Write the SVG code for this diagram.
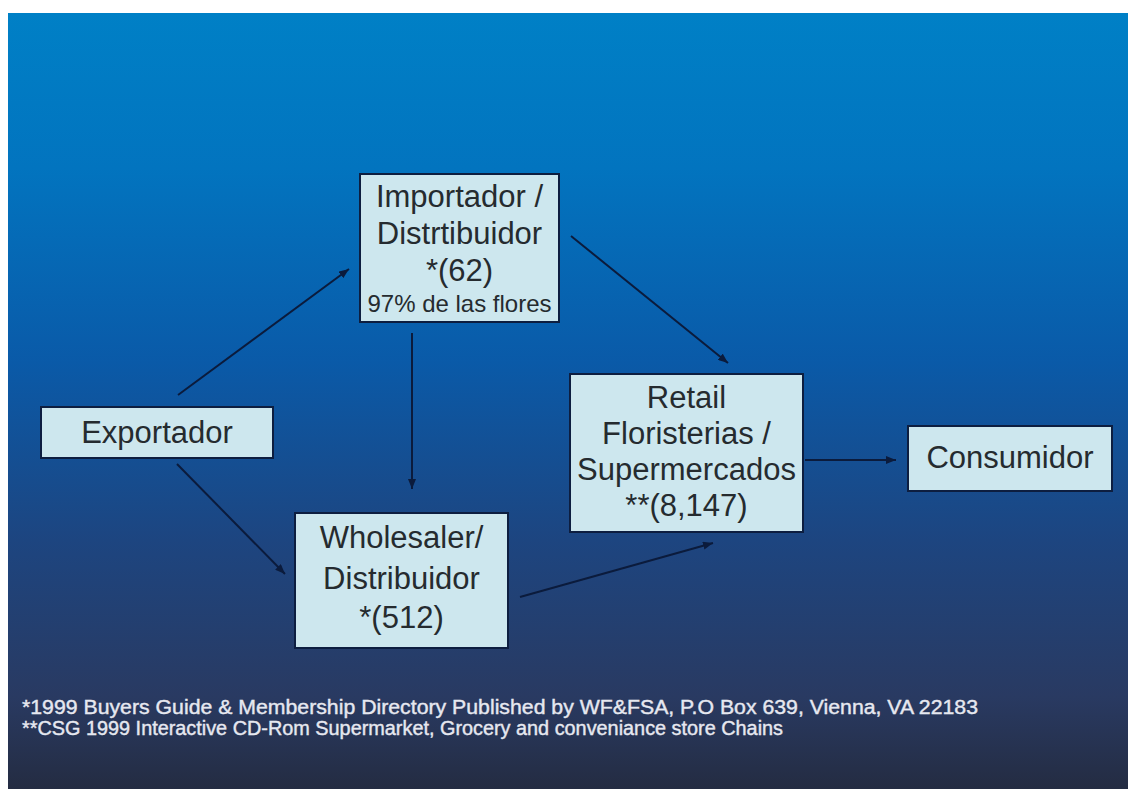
<svg xmlns="http://www.w3.org/2000/svg" width="1128" height="789" viewBox="0 0 1128 789">
<defs>
<linearGradient id="bg" x1="0" y1="0" x2="0" y2="1">
<stop offset="0" stop-color="#0080c6"/>
<stop offset="0.2" stop-color="#0274bf"/>
<stop offset="0.45" stop-color="#0a5aa8"/>
<stop offset="0.68" stop-color="#1d4580"/>
<stop offset="0.88" stop-color="#293a62"/>
<stop offset="1" stop-color="#242c42"/>
</linearGradient>
<marker id="ah" viewBox="0 0 10 8" refX="10" refY="4" markerWidth="10" markerHeight="8" markerUnits="userSpaceOnUse" orient="auto">
<path d="M0,0 L10,4 L0,8 Z" fill="#0b1b3c"/>
</marker>
<style>
.box{fill:#cde7ee;stroke:#0d1e40;stroke-width:2}
.t{font-family:"Liberation Sans",Arial,sans-serif;font-size:31px;fill:#252b2f;text-anchor:middle}
.s{font-size:24px}
.c{stroke:#0b1b3c;stroke-width:2;fill:none;marker-end:url(#ah)}
.fn{font-family:"Liberation Sans",Arial,sans-serif;font-size:20px;fill:#e6e8f0;stroke:#e6e8f0;stroke-width:0.4}
</style>
</defs>
<rect x="0" y="0" width="1128" height="789" fill="#ffffff"/>
<rect x="8" y="13" width="1120" height="776" fill="url(#bg)"/>
<g id="connectors">
<line class="c" x1="178" y1="395" x2="349" y2="269"/>
<line class="c" x1="177" y1="464" x2="285" y2="574"/>
<line class="c" x1="412" y1="333" x2="412" y2="489"/>
<line class="c" x1="571" y1="236" x2="728" y2="363"/>
<line class="c" x1="520" y1="597" x2="713" y2="543"/>
<line class="c" x1="805" y1="460" x2="896" y2="460"/>
</g>
<g id="exportador">
<rect class="box" x="41" y="407" width="232" height="51"/>
<text class="t" x="157" y="443">Exportador</text>
</g>
<g id="importador">
<rect class="box" x="360" y="174" width="199" height="148"/>
<text class="t" x="459.5" y="207">Importador /</text>
<text class="t" x="459.5" y="244">Distrtibuidor</text>
<text class="t" x="459.5" y="281">*(62)</text>
<text class="t s" x="459.5" y="312">97% de las flores</text>
</g>
<g id="retail">
<rect class="box" x="570" y="374" width="233" height="158"/>
<text class="t" x="686.5" y="408">Retail</text>
<text class="t" x="686.5" y="444">Floristerias /</text>
<text class="t" x="686.5" y="480">Supermercados</text>
<text class="t" x="686.5" y="516">**(8,147)</text>
</g>
<g id="wholesaler">
<rect class="box" x="295" y="513" width="213" height="135"/>
<text class="t" x="401.5" y="548">Wholesaler/</text>
<text class="t" x="401.5" y="589">Distribuidor</text>
<text class="t" x="401.5" y="628">*(512)</text>
</g>
<g id="consumidor">
<rect class="box" x="908" y="426" width="204" height="65"/>
<text class="t" x="1010" y="468">Consumidor</text>
</g>
<g id="footnotes">
<text class="fn" x="22" y="714" textLength="956" lengthAdjust="spacingAndGlyphs">*1999 Buyers Guide &amp; Membership Directory Published by WF&amp;FSA, P.O Box 639, Vienna, VA 22183</text>
<text class="fn" x="22" y="735" textLength="761" lengthAdjust="spacingAndGlyphs">**CSG 1999 Interactive CD-Rom Supermarket, Grocery and conveniance store Chains</text>
</g>
</svg>
